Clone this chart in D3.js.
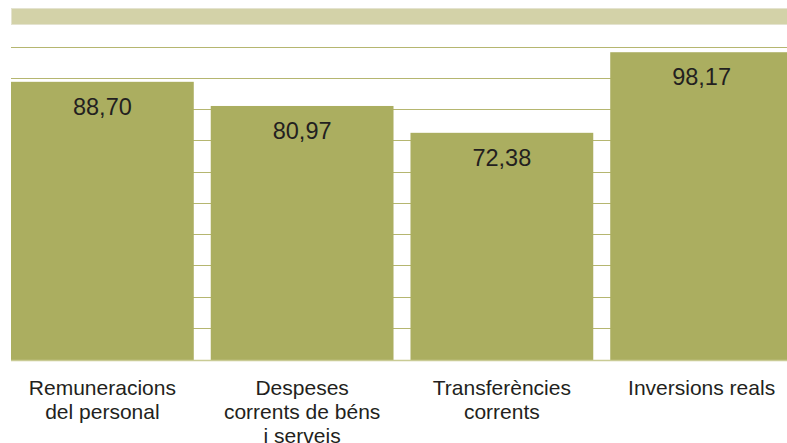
<!DOCTYPE html>
<html>
<head>
<meta charset="utf-8">
<script src="https://cdn.jsdelivr.net/npm/d3@7"></script>
<style>
  body { margin: 0; background: #fff; }
  text { font-family: "Liberation Sans", Arial, sans-serif; fill: #231f20; }
</style>
</head>
<body>
<div id="my_dataviz"></div>
<script>
// data
var categories = ["Remuneracions del personal", "Despeses corrents de béns i serveis", "Transferències corrents", "Inversions reals"]
var labelLines = [["Remuneracions", "del personal"], ["Despeses", "corrents de béns", "i serveis"], ["Transferències", "corrents"], ["Inversions reals"]]
var values = [88.70, 80.97, 72.38, 98.17]
var gridTicks = [10, 20, 30, 40, 50, 60, 70, 80, 90, 100]

var width = 787, height = 443
var left = 11, baseY = 360

var svg = d3.select("#my_dataviz")
  .append("svg")
  .attr("width", width)
  .attr("height", height)

// catalan number format: comma as decimal mark
var locale = d3.formatLocale({ decimal: ",", thousands: ".", grouping: [3], currency: ["", " €"] })
var fmt = locale.format(".2f")

var x = d3.scaleBand()
  .domain(categories)
  .range([left, 793])
  .paddingInner(0.085)
  .paddingOuter(0)

var y = d3.scaleLinear()
  .domain([0, 100])
  .range([359, 46.5])

// header band on top
svg.append("rect")
  .attr("x", left + 0.5)
  .attr("y", 8.5)
  .attr("width", width - left)
  .attr("height", 16)
  .style("fill", "#d3d2a8")
  .style("stroke", "#e4e3cf")
  .style("stroke-width", 1)

// gridlines behind the bars
svg.append("g")
  .selectAll("line")
  .data(gridTicks)
  .enter()
  .append("line")
  .attr("x1", left)
  .attr("x2", width)
  .attr("y1", function (d) { return Math.round(y(d)) + 0.5 })
  .attr("y2", function (d) { return Math.round(y(d)) + 0.5 })
  .style("stroke", "#b5b670")
  .style("stroke-width", 1.1)

// bars
svg.append("g")
  .selectAll("rect")
  .data(values)
  .enter()
  .append("rect")
  .attr("x", function (d, i) { return x(categories[i]) })
  .attr("y", function (d) { return y(d) })
  .attr("width", x.bandwidth())
  .attr("height", function (d) { return baseY - y(d) })
  .style("fill", "#abae60")

// baseline
svg.append("line")
  .attr("x1", left)
  .attr("x2", width)
  .attr("y1", baseY + 0.5)
  .attr("y2", baseY + 0.5)
  .style("stroke", "#c9cb95")
  .style("stroke-width", 1.5)

// value labels inside bars
svg.append("g")
  .selectAll("text")
  .data(values)
  .enter()
  .append("text")
  .attr("x", function (d, i) { return x(categories[i]) + x.bandwidth() / 2 })
  .attr("y", function (d) { return y(d) + 33 })
  .attr("text-anchor", "middle")
  .style("font-size", "23.5px")
  .text(function (d) { return fmt(d) })

// category labels under the bars
var cat = svg.append("g")
  .selectAll("text")
  .data(labelLines)
  .enter()
  .append("text")
  .attr("text-anchor", "middle")
  .style("font-size", "21px")

cat.selectAll("tspan")
  .data(function (d, i) { return d.map(function (t) { return { t: t, i: i } }) })
  .enter()
  .append("tspan")
  .attr("x", function (d) { return x(categories[d.i]) + x.bandwidth() / 2 })
  .attr("y", function (d, j) { return 395 + j * 24 })
  .text(function (d) { return d.t })
</script>
</body>
</html>
